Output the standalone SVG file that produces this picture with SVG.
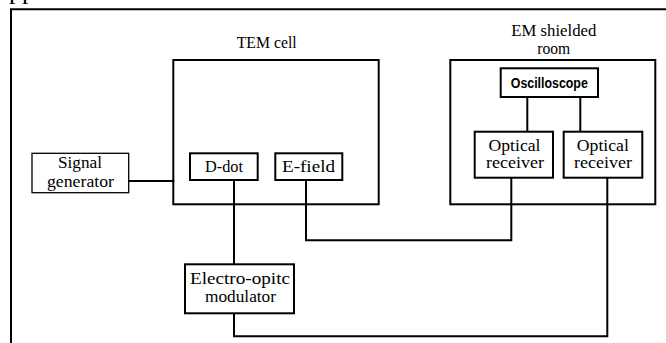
<svg xmlns="http://www.w3.org/2000/svg" width="666" height="343" viewBox="0 0 666 343">
<style>
.bx{fill:#fff;stroke:#000;stroke-width:2}
.cont{fill:none;stroke:#000;stroke-width:2}
.thin{fill:#fff;stroke:#000;stroke-width:1.3}
.ln{fill:none;stroke:#000;stroke-width:2;stroke-linecap:square}
.t{font-family:"Liberation Serif","Times New Roman",serif;font-size:16.5px;fill:#000;text-anchor:middle}
.b{font-family:"Liberation Sans",Arial,sans-serif;font-size:14.5px;font-weight:bold;fill:#000;text-anchor:middle}
</style>
<rect width="666" height="343" fill="#fff"/>
<text x="9" y="-1" font-family="Liberation Serif,serif" font-size="26">pp</text>
<path d="M11,345 V9.3 H668" fill="none" stroke="#000" stroke-width="2"/>

<g id="tem-cell">
<rect class="cont" x="173.3" y="60" width="205.4" height="144.3"/>
<text class="t" x="266.7" y="47.7" textLength="60" lengthAdjust="spacingAndGlyphs">TEM cell</text>
</g>
<g id="em-room">
<rect class="cont" x="450.3" y="60" width="205" height="144.3"/>
<text class="t" x="553.8" y="36" textLength="85" lengthAdjust="spacingAndGlyphs">EM shielded</text>
<text class="t" x="553.7" y="54" textLength="33" lengthAdjust="spacingAndGlyphs">room</text>
</g>

<g id="connectors">
<path class="ln" d="M128.7,181 H173.3"/>
<path class="ln" d="M234,180 V264.3"/>
<path class="ln" d="M306,180 V240.3 H511.3 V177.7"/>
<path class="ln" d="M234,313.3 V336.3 H607.3 V177.7"/>
<path class="ln" d="M527.3,97 V131.7"/>
<path class="ln" d="M580.3,97 V131.7"/>
</g>

<g id="signal-generator">
<rect class="thin" x="32" y="153.3" width="96.7" height="39.4"/>
<text class="t" x="80" y="168" textLength="44" lengthAdjust="spacingAndGlyphs">Signal</text>
<text class="t" x="80.5" y="187" textLength="67" lengthAdjust="spacingAndGlyphs">generator</text>
</g>
<g id="d-dot">
<rect class="bx" x="190" y="153.3" width="67.7" height="26.7"/>
<text class="t" x="224" y="172" textLength="38" lengthAdjust="spacingAndGlyphs">D-dot</text>
</g>
<g id="e-field">
<rect class="bx" x="275.3" y="153.3" width="67" height="26.7"/>
<text class="t" x="308.5" y="172" textLength="53" lengthAdjust="spacingAndGlyphs">E-field</text>
</g>
<g id="eo-modulator">
<rect class="bx" x="185" y="264.3" width="109" height="49"/>
<text class="t" x="240" y="284.3" textLength="100" lengthAdjust="spacingAndGlyphs">Electro-opitc</text>
<text class="t" x="240.5" y="301.7" textLength="71" lengthAdjust="spacingAndGlyphs">modulator</text>
</g>
<g id="oscilloscope">
<rect class="bx" x="500.7" y="68.3" width="97.3" height="28.7"/>
<text class="b" x="549.3" y="88.3" textLength="77" lengthAdjust="spacingAndGlyphs">Oscilloscope</text>
</g>
<g id="optical-receiver-1">
<rect class="bx" x="474.7" y="131.7" width="78.3" height="46"/>
<text class="t" x="514.5" y="150.7" textLength="52" lengthAdjust="spacingAndGlyphs">Optical</text>
<text class="t" x="515" y="168.3" textLength="58" lengthAdjust="spacingAndGlyphs">receiver</text>
</g>
<g id="optical-receiver-2">
<rect class="bx" x="563.7" y="131.7" width="78.6" height="46"/>
<text class="t" x="602.8" y="150.7" textLength="52" lengthAdjust="spacingAndGlyphs">Optical</text>
<text class="t" x="603" y="168.3" textLength="58" lengthAdjust="spacingAndGlyphs">receiver</text>
</g>
</svg>
